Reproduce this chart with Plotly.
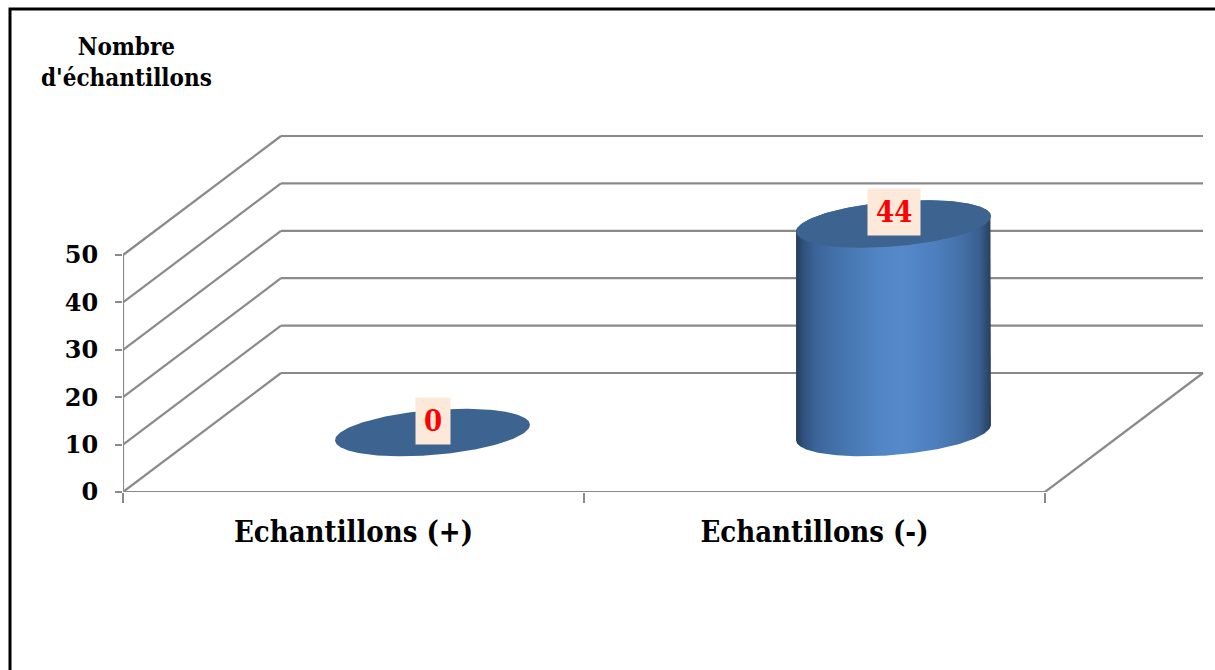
import numpy as np
import plotly.graph_objects as go

# --- data -------------------------------------------------------------
categories = ["Echantillons (+)", "Echantillons (-)"]
counts = [0, 44]
y_ticks = [0, 10, 20, 30, 40, 50]
y_title = "Nombre<br>d'échantillons"

# --- geometry of the pseudo-3D frame ---------------------------------
W, H = 1215, 670
x0_px, floor_px = 123, 492          # front-left corner of the floor
cat_px = 461                        # width of one category slot
unit_px = 4.74                      # pixels per count
depth_dx_px, depth_dy_px = 158, 119  # oblique offset of the back wall

dxu = depth_dx_px / cat_px          # depth offset in x-axis units
dvu = depth_dy_px / unit_px         # depth offset in y-axis units
x_lo, x_hi = -0.5, len(categories) - 0.5
radius = 0.2                        # cylinder radius (category units / depth fraction)

GRID = "#8a8a8a"
SERIF = "DejaVu Serif Condensed, DejaVu Serif, serif"

fig = go.Figure()


def seg(xs, ys, width=2.2):
    fig.add_trace(go.Scatter(x=xs, y=ys, mode="lines",
                             line=dict(color=GRID, width=width),
                             hoverinfo="skip", showlegend=False))


# back wall gridlines and left wall diagonals
for v in y_ticks:
    seg([x_lo + dxu, x_hi + dxu], [v + dvu, v + dvu])
    seg([x_lo, x_lo + dxu], [v, v + dvu])

# floor: front edge, right edge, front vertical axis
seg([x_lo, x_hi], [0, 0])
seg([x_hi, x_hi + dxu], [0, dvu])
seg([x_lo, x_lo], [0, y_ticks[-1]])


def ellipse(cx, cv, t):
    return (cx + radius * np.cos(t) + radius * np.sin(t) * dxu,
            cv + radius * np.sin(t) * dvu)


theta0 = np.arctan(dxu)             # angle of the right-hand silhouette point
body_scale = [
    [0.0, "#243d5c"], [0.04, "#30527e"], [0.10, "#3b6499"], [0.25, "#4676b0"],
    [0.45, "#5287c6"], [0.55, "#5589c9"], [0.72, "#4d7ebd"], [0.85, "#4470a8"],
    [0.94, "#3a5f90"], [1.0, "#273f5e"],
]

for i, val in enumerate(counts):
    cx = i + dxu / 2
    cv = dvu / 2
    if val > 0:
        t_front = np.linspace(theta0 + np.pi, theta0 + 2 * np.pi, 120)
        t_back = np.linspace(theta0, theta0 + np.pi, 120)
        bx, bv = ellipse(cx, cv, t_front)
        tx, tv = ellipse(cx, cv + val, t_back)
        fig.add_trace(go.Scatter(
            x=np.concatenate([bx, tx]), y=np.concatenate([bv, tv]),
            mode="lines", fill="toself", line=dict(width=0),
            fillgradient=dict(type="horizontal", colorscale=body_scale),
            hoverinfo="skip", showlegend=False))
    t = np.linspace(0, 2 * np.pi, 240)
    ex, ev = ellipse(cx, cv + val, t)
    fig.add_trace(go.Scatter(
        x=ex, y=ev, mode="lines", fill="toself", line=dict(width=0),
        fillcolor="#3d6390", hoverinfo="skip", showlegend=False))
    fig.add_annotation(
        x=cx, y=cv + val, xref="x", yref="y", text=str(val),
        xanchor="center", yanchor="middle",
        showarrow=False, yshift=12, bgcolor="#fde9d9", borderpad=8, height=30,
        font=dict(family=SERIF, size=29, color="#ff0000", weight="bold"))

# y-axis title
fig.add_annotation(
    x=126 / W, y=1 - 62 / H, xref="paper", yref="paper", text=y_title,
    xanchor="center", yanchor="middle",
    showarrow=False, align="center",
    font=dict(family=SERIF, size=24, color="#000000", weight="bold"))

# outer frame
fig.add_shape(type="rect", xref="paper", yref="paper",
              x0=10 / W, x1=1.05, y0=-0.05, y1=1 - 9 / H,
              line=dict(color="#000000", width=3), fillcolor="rgba(0,0,0,0)",
              layer="above")

fig.update_layout(
    width=W, height=H,
    margin=dict(l=0, r=0, t=0, b=0, autoexpand=False),
    paper_bgcolor="white", plot_bgcolor="white",
    showlegend=False,
    xaxis=dict(
        domain=[x0_px / W, 1],
        range=[x_lo, x_lo + (W - x0_px) / cat_px],
        tickvals=list(range(len(categories))), ticktext=categories,
        ticks="", showgrid=False, zeroline=False, showline=False,
        automargin=False, ticklabelstandoff=20,
        tickfont=dict(family=SERIF, size=29, color="#000000", weight="bold"),
        minor=dict(tickvals=[x_lo + k for k in range(len(categories) + 1)],
                   ticks="outside", ticklen=10, tickwidth=2, tickcolor=GRID,
                   showgrid=False),
        fixedrange=True,
    ),
    yaxis=dict(
        domain=[1 - floor_px / H, 1],
        range=[0, floor_px / unit_px],
        tickvals=y_ticks, ticks="outside", ticklen=7, tickwidth=2,
        tickcolor=GRID, showgrid=False, zeroline=False, showline=False,
        automargin=False, ticklabelstandoff=12,
        tickfont=dict(family="DejaVu Serif, serif", size=24, color="#000000",
                      weight="bold"),
        fixedrange=True,
    ),
)

fig.write_html("out.html")
